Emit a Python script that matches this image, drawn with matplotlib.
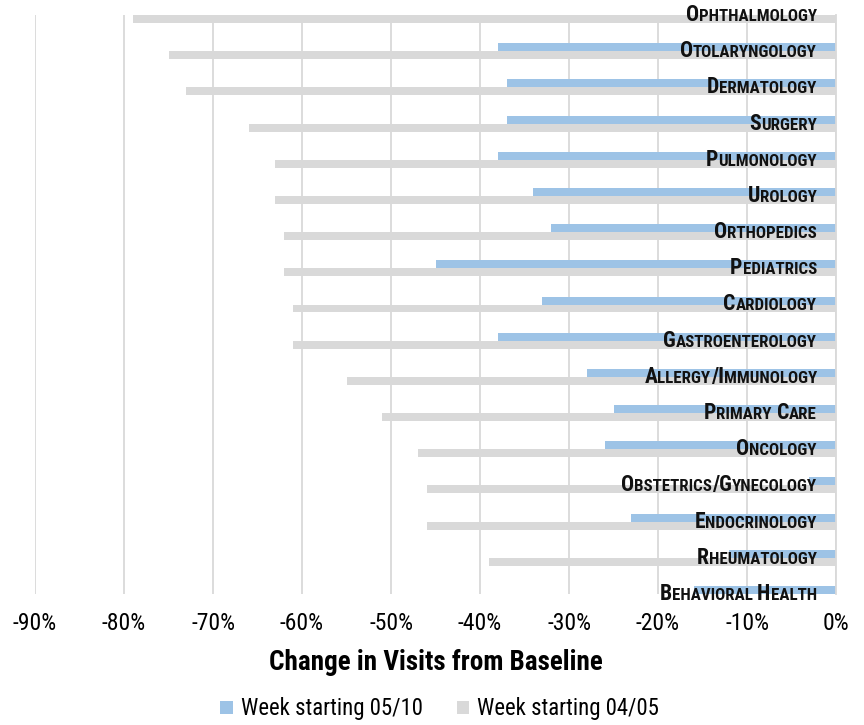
import matplotlib
matplotlib.use("Agg")
import matplotlib.pyplot as plt
from matplotlib import font_manager
from matplotlib.offsetbox import TextArea, HPacker, AnnotationBbox
from matplotlib.patches import Patch

# ---- data ----
specialties = ["Ophthalmology", "Otolaryngology", "Dermatology", "Surgery", "Pulmonology",
               "Urology", "Orthopedics", "Pediatrics", "Cardiology", "Gastroenterology",
               "Allergy/Immunology", "Primary Care", "Oncology", "Obstetrics/Gynecology",
               "Endocrinology", "Rheumatology", "Behavioral Health"]
week_0510 = [-39, -38, -37, -37, -38, -34, -32, -45, -33, -38, -28, -25, -26, -3, -23, -12, -16]
week_0405 = [-79, -75, -73, -66, -63, -63, -62, -62, -61, -61, -55, -51, -47, -46, -46, -39, -30]
xticks = [-90, -80, -70, -60, -50, -40, -30, -20, -10, 0]
xtick_labels = ["-90%", "-80%", "-70%", "-60%", "-50%", "-40%", "-30%", "-20%", "-10%", "0%"]
series_names = ["Week starting 05/10", "Week starting 04/05"]

# ---- fonts ----
avail = {f.name for f in font_manager.fontManager.ttflist}
fam = "DejaVu Sans"
for cand in ["Roboto Condensed", "Liberation Sans Narrow", "Roboto"]:
    if cand in avail:
        fam = cand
        break
plt.rcParams["font.family"] = [fam, "DejaVu Sans"]

BLUE = "#9dc3e6"
GRAY = "#d9d9d9"

fig = plt.figure(figsize=(8.64, 7.25), dpi=100)
ax = fig.add_axes([35 / 864, 1 - 594 / 725, (836 - 35) / 864, (594 - 15) / 725])

ys = list(range(len(specialties)))
h = 0.221
ax.barh([y - h / 2 for y in ys], week_0510, height=h, color=BLUE, zorder=2, label=series_names[0])
ax.barh([y + h / 2 for y in ys], week_0405, height=h, color=GRAY, zorder=2, label=series_names[1])

ax.set_xlim(-90, 0)
ax.set_ylim(16, 0)
ax.set_yticks([])
ax.set_xticks(xticks)
ax.set_xticklabels(xtick_labels, fontsize=17)
ax.tick_params(axis="x", length=0, pad=13, colors="black")
ax.grid(axis="x", color=GRAY, linewidth=1.3, zorder=0)
ax.set_axisbelow(True)
for s in ["top", "left", "bottom"]:
    ax.spines[s].set_visible(False)
ax.spines["right"].set_color(GRAY)
ax.spines["right"].set_linewidth(1.3)


def small_caps_box(text, big=15.6, small=12.2):
    parts = []
    cur = ""
    cur_big = None
    for ch in text:
        isbig = not ch.islower()
        if cur_big is None or isbig == cur_big:
            cur += ch
        else:
            parts.append((cur, cur_big))
            cur = ch
        cur_big = isbig
    if cur:
        parts.append((cur, cur_big))
    children = []
    for seg, isbig in parts:
        children.append(TextArea(seg.upper(), textprops=dict(
            fontsize=big if isbig else small, fontweight="heavy", color="#111111",
            family=[fam, "DejaVu Sans"])))
    return HPacker(children=children, align="baseline", pad=0, sep=0)


for y, name in zip(ys, specialties):
    ab = AnnotationBbox(small_caps_box(name), (-2.15, y), xycoords="data",
                        box_alignment=(1, 0.5), frameon=False, pad=0, zorder=5,
                        annotation_clip=False)
    ax.add_artist(ab)

fig.text((35 + 836) / 2 / 864, 1 - 663 / 725, "Change in Visits from Baseline",
         fontsize=19.5, fontweight="bold", ha="center", va="center")

handles = [Patch(facecolor=BLUE, edgecolor="none"), Patch(facecolor=GRAY, edgecolor="none")]
fig.legend(handles, series_names, loc="center", bbox_to_anchor=(0.509, 1 - 709 / 725),
           ncol=2, frameon=False, fontsize=16.4, handlelength=0.55, handleheight=0.55,
           handletextpad=0.35, columnspacing=1.5)

fig.savefig("out.png", dpi=100)
